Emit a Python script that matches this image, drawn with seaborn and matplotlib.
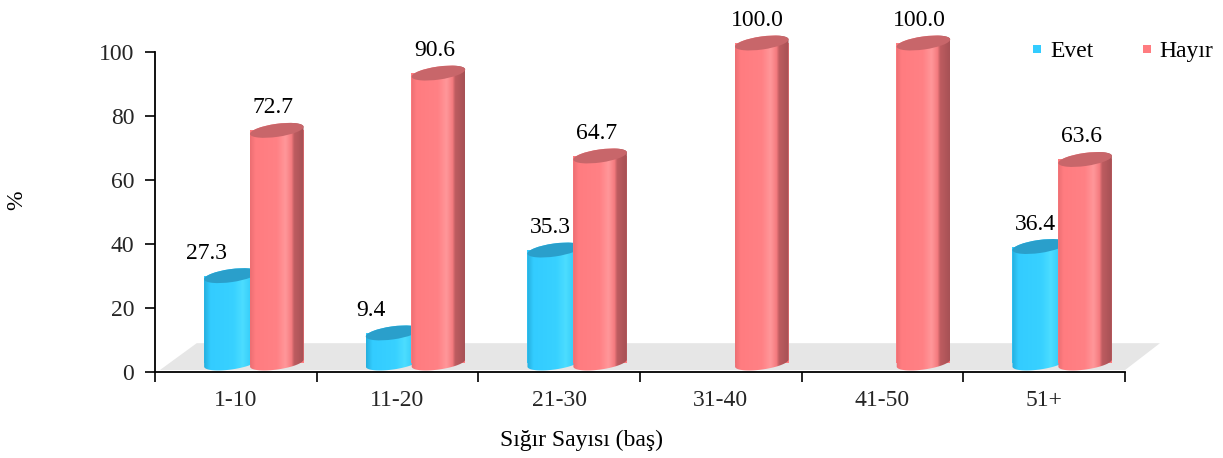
import numpy as np
import pandas as pd
import matplotlib
matplotlib.use("Agg")
import matplotlib.pyplot as plt
import seaborn as sns
from matplotlib.colors import LinearSegmentedColormap
from matplotlib.patches import Ellipse, PathPatch, Polygon
from matplotlib.lines import Line2D
from matplotlib.path import Path
from matplotlib.transforms import IdentityTransform

# ---- data -------------------------------------------------------------
categories = ["1-10", "11-20", "21-30", "31-40", "41-50", "51+"]
evet = [27.3, 9.4, 35.3, 0.0, 0.0, 36.4]
hayir = [72.7, 90.6, 64.7, 100.0, 100.0, 63.6]
series_names = ["Evet", "Hayır"]
y_ticks = [0, 20, 40, 60, 80, 100]
x_title = "Sığır Sayısı (baş)"
y_title = "%"

df = pd.DataFrame({
    "grup": categories * 2,
    "seri": [series_names[0]] * len(categories) + [series_names[1]] * len(categories),
    "oran": evet + hayir,
})

# ---- style ------------------------------------------------------------
FS = 17
sns.set_theme(style="white")
plt.rcParams["font.family"] = ["Liberation Serif", "DejaVu Serif"]
plt.rcParams["font.size"] = FS
plt.rcParams["text.color"] = "black"

W, H, DPI = 1223, 458, 100
fig = plt.figure(figsize=(W / DPI, H / DPI), dpi=DPI)
fig.patch.set_facecolor("white")


def pixel_box(left, top, width, height):
    """Convert a pixel box (top-left origin) to figure fractions."""
    return [left / W, 1 - (top + height) / H, width / W, height / H]


# main axes: spines, ticks and the floor of the 3-D plot
ax = fig.add_axes(pixel_box(155, 52, 970, 320))
# bar axes: same scale, pushed back into the depth of the plot
ax2 = fig.add_axes(pixel_box(173, 11, 970, 368))

base_colors = {"Evet": "#33CCFF", "Hayır": "#FF7C80"}
sns.barplot(data=df, x="grup", y="oran", hue="seri", order=categories,
            hue_order=series_names, palette=base_colors, width=0.568,
            saturation=1, errorbar=None, legend=False, linewidth=0, ax=ax2)

# ---- main axes formatting ---------------------------------------------
ax.set_xlim(-0.5, len(categories) - 0.5)
ax.set_ylim(0, 100)
ax.set_facecolor("white")
for side in ("top", "right"):
    ax.spines[side].set_visible(False)
for side in ("left", "bottom"):
    ax.spines[side].set_color("black")
    ax.spines[side].set_linewidth(1.3)
ax.set_yticks(y_ticks)
ax.set_yticklabels([str(t) for t in y_ticks])
ax.set_xticks(np.arange(-0.5, len(categories)))
ax.set_xticklabels([])
ax.set_xticks(np.arange(len(categories)), minor=True)
ax.set_xticklabels(categories, minor=True)
ax.tick_params(axis="y", which="major", direction="out", length=7, width=1.2,
               color="black", labelsize=FS, pad=8, left=True)
ax.tick_params(axis="x", which="major", direction="out", length=7, width=1.2,
               color="black", bottom=True)
ax.tick_params(axis="x", which="minor", length=0, labelsize=FS, pad=13)
ax.set_xlabel("")
ax.set_ylabel("")

# floor of the 3-D chart
floor = Polygon([(0.005, 0.006), (0.043, 0.09), (1.036, 0.09), (1.0, 0.006)],
                closed=True, transform=ax.transAxes, facecolor="#E6E6E6",
                edgecolor="none", clip_on=False, zorder=0)
ax.add_patch(floor)

# ---- cylinders ---------------------------------------------------------
ax2.set_xlim(-0.5, len(categories) - 0.5)
ax2.set_ylim(-5, 110)
ax2.set_facecolor("none")
ax2.axis("off")
ax2.set_autoscale_on(False)

cyl = {
    "Evet": dict(
        cmap=LinearSegmentedColormap.from_list("evet", [
            (0.0, "#26AEDD"), (0.12, "#33CCFF"), (0.55, "#38D1FF"),
            (0.72, "#4CDDFF"), (0.88, "#35CBF8"), (1.0, "#2AA6D6")]),
        cap="#2A9FCB", z=2),
    "Hayır": dict(
        cmap=LinearSegmentedColormap.from_list("hayir", [
            (0.0, "#EC6E72"), (0.1, "#FF7C80"), (0.5, "#FF8185"),
            (0.66, "#FF979A"), (0.77, "#F57B7F"), (0.82, "#BE5C60"),
            (1.0, "#A65155")]),
        cap="#C8666A", z=4),
}
bar_w = 0.334          # overlapping bar width in category units
cap_b = 6.5            # half height of elliptical caps, px
tilt = np.deg2rad(8)   # perspective tilt of the caps

label_nudge = {("1-10", "Evet"): -24, ("11-20", "Evet"): -22}


def ellipse_pts(cx, cy, a, b, th, t):
    return np.column_stack([
        cx + a * np.cos(t) * np.cos(th) - b * np.sin(t) * np.sin(th),
        cy + a * np.cos(t) * np.sin(th) + b * np.sin(t) * np.cos(th),
    ])


grad = np.linspace(0, 1, 256)[None, :]
for container, name in zip(ax2.containers, series_names):
    st = cyl[name]
    for rect, cat in zip(container, categories):
        h = rect.get_height()
        c = rect.get_x() + rect.get_width() / 2
        rect.set_x(c - bar_w / 2)
        rect.set_width(bar_w)
        rect.set_zorder(st["z"])
        if h <= 0:
            continue
        cx, by = ax2.transData.transform((c, 0))
        _, ty = ax2.transData.transform((c, h))
        a = ax2.transData.transform((c + bar_w / 2, 0))[0] - cx

        top_arc = ellipse_pts(cx, ty, a, cap_b, tilt, np.linspace(0, np.pi, 60))
        bot_arc = ellipse_pts(cx, by, a, cap_b, tilt, np.linspace(np.pi, 2 * np.pi, 60))
        verts = np.vstack([top_arc, bot_arc, top_arc[:1]])
        codes = [Path.MOVETO] + [Path.LINETO] * (len(verts) - 2) + [Path.CLOSEPOLY]
        body = PathPatch(Path(verts, codes), transform=IdentityTransform(),
                         facecolor="none", edgecolor="none", zorder=st["z"])
        ax2.add_patch(body)

        im = ax2.imshow(grad, cmap=st["cmap"], aspect="auto",
                        extent=[c - bar_w / 2, c + bar_w / 2, -4, h + 4],
                        interpolation="bilinear", zorder=st["z"] + 0.1,
                        clip_path=body)
        im.set_clip_box(None)

        cap = Ellipse((cx, ty), 2 * a, 2 * cap_b, angle=np.rad2deg(tilt),
                      transform=IdentityTransform(), facecolor=st["cap"],
                      edgecolor="none", zorder=st["z"] + 0.2)
        ax2.add_patch(cap)

        ax2.annotate(f"{h:.1f}", xy=(c, h), xycoords="data",
                     xytext=(label_nudge.get((cat, name), -4), 17),
                     textcoords="offset pixels", ha="center", va="baseline",
                     fontsize=FS, color="black", zorder=10)

# ---- legend and titles -------------------------------------------------
handles = [Line2D([], [], linestyle="none", marker="s", markersize=5.8,
                  markerfacecolor=base_colors[n], markeredgewidth=0)
           for n in series_names]
ax2.legend(handles, series_names, loc="center left",
           bbox_to_anchor=(1031 / W, 1 - 51 / H), bbox_transform=fig.transFigure,
           ncol=2, frameon=False, handlelength=0.55, handletextpad=0.25,
           columnspacing=2.0, borderpad=0, borderaxespad=0, fontsize=FS)

fig.text(581 / W, 1 - 440 / H, x_title, ha="center", va="center", fontsize=FS)
fig.text(17 / W, 1 - 200 / H, y_title, ha="center", va="center",
         rotation=90, fontsize=FS)

fig.savefig("out.png", dpi=DPI, facecolor="white")
